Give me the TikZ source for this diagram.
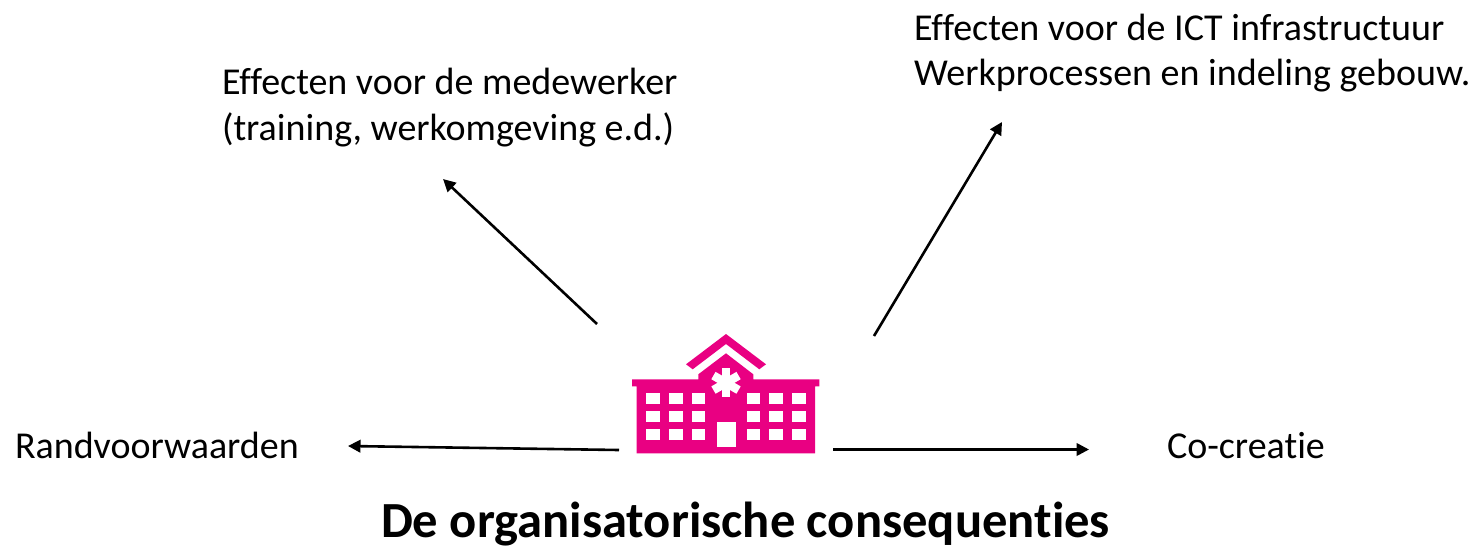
\documentclass[tikz,border=0pt]{standalone}
\usepackage{fontspec}
\setmainfont[Ligatures=NoCommon]{Carlito}
\usetikzlibrary{arrows.meta}
\definecolor{hosp}{RGB}{233,0,130}
\tikzset{
  lbl/.style={anchor=base west,inner sep=0pt,outer sep=0pt,font=\fontsize{38}{38}\selectfont},
  ttl/.style={anchor=base,inner sep=0pt,outer sep=0pt,font=\fontsize{50.6}{50.6}\selectfont\bfseries},
  conn/.style={line width=2.6pt,-{Triangle[length=12.5pt,width=12.5pt]}},
  win/.style={fill=white},
  star/.style={draw=white,line width=8.5pt}
}
\begin{document}
\begin{tikzpicture}[x=1pt,y=-1pt]
\useasboundingbox (0,0) rectangle (1475,547);
% hospital
\fill[hosp] (686,364.3) -- (726,334) -- (766,364.3) -- (759.3,369.3) -- (726,344) -- (692.7,369.3) -- cycle;
\fill[hosp] (698.3,379.3) -- (698.3,374.3) -- (726,353.3) -- (753.3,374.3) -- (753.3,379.3) -- (819.3,379.3) -- (819.3,386.3) -- (815,386.3) -- (815,453.3) -- (636.7,453.3) -- (636.7,386.3) -- (632,386.3) -- (632,379.3) -- cycle;
\foreach \xa/\xb in {645.7/659.7,668.7/682.7,691.7/705.3,746.7/760.3,769.3/783.3,792.3/806}
  \foreach \ya/\yb in {393.3/404.3,411/421.7,428.7/439.7}
    \fill[win] (\xa,\ya) rectangle (\xb,\yb);
\fill[win] (716.7,421.7) rectangle (736,446.7);
\foreach \a in {90,30,150}
  \draw[star] (726,382.8) ++(\a:-14.5) -- ++(\a:29);
% labels
\node[lbl] (med1) at (222,94.5) {Effecten voor de medewerker};
\node[lbl] (med2) at (222,140.5) {(training, werkomgeving e.d.)};
\node[lbl] (ict1) at (914,40.5) {Effecten voor de ICT infrastructuur};
\node[lbl] (ict2) at (914,85.5) {Werkprocessen en indeling gebouw.};
\node[lbl] (rand) at (15,458) {Randvoorwaarden};
\node[lbl] (co) at (1167,458) {Co-creatie};
\node[ttl] (title) at (745.5,537) {De organisatorische consequenties};
% connectors
\coordinate (a1s) at (597,324); \coordinate (a1e) at (443,179);
\coordinate (a2s) at (874,336); \coordinate (a2e) at (1002,122);
\coordinate (a3s) at (619,450); \coordinate (a3e) at (348,446);
\coordinate (a4s) at (833,449.5); \coordinate (a4e) at (1089,449.5);
\draw[conn] (a1s) -- (a1e);
\draw[conn] (a2s) -- (a2e);
\draw[conn] (a3s) -- (a3e);
\draw[conn] (a4s) -- (a4e);
\end{tikzpicture}
\end{document}
